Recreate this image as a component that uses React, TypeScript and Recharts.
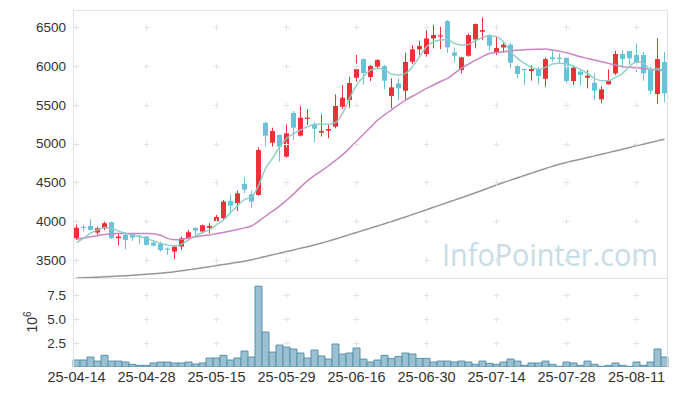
import React from "react";
import { ComposedChart, BarChart, Bar, Line, XAxis, YAxis, ReferenceDot } from "recharts";

const dates = [
  "25-04-14","25-04-15","25-04-16","25-04-17","25-04-18","25-04-21","25-04-22","25-04-23","25-04-24","25-04-25",
  "25-04-28","25-04-29","25-04-30","25-05-02","25-05-07","25-05-08","25-05-09","25-05-12","25-05-13","25-05-14",
  "25-05-15","25-05-16","25-05-19","25-05-20","25-05-21","25-05-22","25-05-23","25-05-26","25-05-27","25-05-28",
  "25-05-29","25-05-30","25-06-02","25-06-04","25-06-05","25-06-09","25-06-10","25-06-11","25-06-12","25-06-13",
  "25-06-16","25-06-17","25-06-18","25-06-19","25-06-20","25-06-23","25-06-24","25-06-25","25-06-26","25-06-27",
  "25-06-30","25-07-01","25-07-02","25-07-03","25-07-04","25-07-07","25-07-08","25-07-09","25-07-10","25-07-11",
  "25-07-14","25-07-15","25-07-16","25-07-17","25-07-18","25-07-21","25-07-22","25-07-23","25-07-24","25-07-25",
  "25-07-28","25-07-29","25-07-30","25-07-31","25-08-01","25-08-04","25-08-05","25-08-06","25-08-07","25-08-08",
  "25-08-11","25-08-12","25-08-13","25-08-14","25-08-18",
];

const open = [
  3782,3930,3940,3855,3910,3988,3782,3825,3834,3812,
  3804,3726,3709,3649,3610,3675,3782,3915,3868,3915,
  3996,4039,4264,4236,4480,4348,4339,5265,5012,5111,
  4832,5394,5102,5321,5248,5141,5167,5218,5475,5561,
  5848,6088,5857,5990,5998,5613,5775,5681,6054,6213,
  6153,6354,6384,6577,6174,5947,6131,6341,6440,6397,
  6170,6238,6273,5998,5960,5934,5960,5835,6110,6105,
  6105,5805,5926,5848,5784,5570,5763,5904,6153,6191,
  6140,6140,5947,5638,6050,
];
const high = [
  3962,3953,4026,3932,3996,3996,3838,3846,3846,3825,
  3812,3760,3739,3662,3696,3804,3889,3923,3958,3975,
  4082,4275,4345,4395,4566,4395,4952,5282,5205,5119,
  5248,5420,5484,5445,5274,5377,5240,5634,5754,5861,
  6140,6097,6011,6088,6011,5840,5840,6170,6268,6324,
  6517,6526,6504,6590,6238,6118,6418,6547,6624,6410,
  6376,6311,6298,6011,5962,6011,5990,6110,6204,6161,
  6108,6003,5947,5947,5904,5741,5956,6196,6204,6193,
  6290,6175,5990,6355,6178,
];
const low = [
  3760,3868,3880,3825,3889,3773,3688,3640,3748,3705,
  3688,3675,3610,3568,3512,3632,3748,3825,3846,3846,
  3975,4018,4100,4133,4360,4168,4330,4961,4961,4768,
  4819,5047,5090,5240,5017,5090,5068,5197,5445,5462,
  5797,5762,5806,5968,5700,5454,5553,5561,6024,6140,
  6118,6226,6217,6170,6046,5904,6118,6226,6333,6204,
  6140,6170,5968,5840,5754,5810,5760,5733,6054,6033,
  5775,5754,5745,5711,5561,5518,5760,5883,5990,6011,
  5925,5809,5638,5510,5532,
];
const close = [
  3919,3925,3889,3910,3975,3782,3804,3760,3790,3800,
  3696,3688,3628,3636,3675,3782,3859,3880,3949,3940,
  4056,4254,4202,4360,4407,4253,4918,5102,5162,4961,
  5132,5205,5334,5334,5192,5162,5188,5484,5591,5780,
  5960,5908,5998,6076,5810,5724,5711,6050,6213,6256,
  6354,6397,6393,6238,6131,6110,6397,6539,6461,6260,
  6230,6273,6041,5896,5950,5960,5870,6088,6088,6088,
  5805,5977,5883,5874,5681,5698,5810,6153,6088,6097,
  6041,5905,5681,6088,5647,
];

const maShort = [
  3725,3782,3846,3889,3919,3911,3876,3846,3825,3804,
  3774,3748,3718,3696,3683,3705,3761,3816,3855,3889,
  3954,4018,4110,4200,4280,4310,4460,4680,4810,4955,
  5065,5130,5175,5218,5250,5250,5250,5272,5390,5580,
  5752,5860,5947,5968,5950,5895,5883,5904,5990,6118,
  6247,6311,6333,6341,6290,6268,6277,6324,6367,6384,
  6376,6311,6183,6097,6033,5981,5955,5981,6024,6033,
  6024,5998,5955,5904,5840,5810,5810,5853,5905,5990,
  6054,6041,5950,5968,5926,
];
const maMid = [
  3770,3785,3800,3815,3830,3840,3842,3843,3843,3842,
  3842,3840,3820,3780,3762,3770,3785,3800,3815,3825,
  3840,3855,3875,3895,3915,3940,4000,4065,4130,4195,
  4270,4350,4440,4520,4590,4650,4715,4785,4855,4940,
  5030,5120,5210,5300,5370,5435,5500,5560,5610,5660,
  5710,5755,5800,5840,5905,5970,6022,6075,6120,6160,
  6172,6183,6194,6204,6208,6213,6215,6217,6204,6188,
  6170,6144,6118,6097,6076,6055,6033,6012,5990,5983,
  5977,5966,5956,5947,5938,
];
const maLong = [
  3270,3273,3277,3281,3285,3290,3295,3300,3306,3312,
  3318,3325,3332,3340,3350,3362,3375,3388,3402,3416,
  3430,3444,3458,3472,3486,3505,3526,3547,3568,3589,
  3610,3631,3652,3673,3696,3720,3745,3772,3800,3828,
  3856,3884,3912,3940,3968,3996,4026,4056,4087,4118,
  4149,4180,4211,4242,4273,4304,4335,4367,4400,4434,
  4468,4500,4530,4560,4590,4620,4650,4680,4708,4735,
  4758,4779,4800,4821,4842,4863,4884,4906,4928,4950,
  4972,4993,5014,5035,5056,
];

const volumeM = [
  0.73,0.73,1.04,0.62,1.22,0.62,0.62,0.52,0.28,0.17,
  0.17,0.42,0.52,0.52,0.42,0.42,0.52,0.31,0.42,0.94,
  0.94,1.22,0.73,0.94,1.67,1.04,8.44,3.65,1.56,2.29,
  2.08,1.88,1.46,0.94,1.77,1.15,0.83,2.40,1.35,1.46,
  1.98,0.83,0.52,0.73,1.22,0.90,1.10,1.46,1.35,0.90,
  0.90,0.52,0.62,0.62,0.52,0.62,0.52,0.28,0.62,0.38,
  0.28,0.52,0.83,0.62,0.17,0.42,0.42,0.62,0.28,0.07,
  0.52,0.42,0.17,0.62,0.28,0.07,0.17,0.42,0.17,0.07,
  0.52,0.17,0.52,1.88,1.04,
];

const dateTicks = ["25-04-14","25-04-28","25-05-15","25-05-29","25-06-16","25-06-30","25-07-14","25-07-28","25-08-11"];
const priceTicks = [3500, 4000, 4500, 5000, 5500, 6000, 6500];
const volumeTicks = [2.5, 5.0, 7.5];

const data = dates.map((d, i) => ({
  date: d,
  open: open[i],
  high: high[i],
  low: low[i],
  close: close[i],
  range: [low[i], high[i]],
  ma1: maShort[i],
  ma2: maMid[i],
  ma3: maLong[i],
  vol: volumeM[i],
}));

const RED = "#ec3238";
const BLUE = "#68c2d9";
const GRID = "#e4e4e4";
const FONT = "'Liberation Sans', Arial, sans-serif";

const Candle = (props: any) => {
  const { x, y, width, height, payload } = props;
  if (x == null || y == null) return null;
  const top = Math.min(y, y + height);
  const h = Math.abs(height);
  const { open: o, close: c, high: hi, low: lo } = payload;
  const color = c >= o ? RED : BLUE;
  const ratio = hi - lo > 0 ? h / (hi - lo) : 0;
  const yOf = (v: number) => top + (hi - v) * ratio;
  const cx = Math.round(x + width / 2 - 0.5) + 0.5;
  const bTop = yOf(Math.max(o, c));
  const bBot = yOf(Math.min(o, c));
  return (
    <g>
      <line x1={cx} x2={cx} y1={top} y2={top + h} stroke={color} strokeWidth={1} />
      <rect x={cx - 2.5} y={bTop} width={5} height={Math.max(1.2, bBot - bTop)} fill={color} />
    </g>
  );
};

const Plus = (p: any) => {
  if (p.cx == null || p.cy == null) return null;
  const cy = Math.round(p.cy) + 0.5;
  return <path d={`M${p.cx - 3},${cy}h6M${p.cx},${cy - 3}v6`} stroke={GRID} strokeWidth={1} fill="none" />;
};

export default function App() {
  return (
    <div style={{ position: "absolute", left: 0, top: 0, width: 677, height: 396, background: "#fff", overflow: "hidden" }}>
      <svg width={677} height={396} style={{ position: "absolute", left: 0, top: 0, pointerEvents: "none" }}>
        <text x={442} y={266} fill="#c8dce7" fontSize={31} fontFamily="'Open Sans', 'Noto Sans', sans-serif" textLength={216} lengthAdjust="spacingAndGlyphs">
          InfoPointer.com
        </text>
      </svg>
      <div style={{ position: "absolute", left: 0, top: 0 }}>
        <ComposedChart width={677} height={278} data={data} margin={{ top: 10, right: 9, bottom: 0, left: 0 }}>
          <XAxis dataKey="date" type="category" hide />
          <YAxis
            domain={[3270, 6720]}
            ticks={priceTicks}
            allowDataOverflow
            width={73}
            axisLine={false}
            tickLine={false}
            tickSize={0}
            tickMargin={7}
            tick={{ fill: "#333", fontSize: 13.5, fontFamily: FONT }}
          />
          {dateTicks.map((d) =>
            priceTicks.map((p) => (
              <ReferenceDot key={d + p} x={d} y={p} r={3} shape={<Plus />} ifOverflow="hidden" />
            ))
          )}
          <Bar dataKey="range" shape={<Candle />} isAnimationActive={false} />
          <Line type="monotone" dataKey="ma3" stroke="#979797" strokeWidth={1.5} dot={false} isAnimationActive={false} />
          <Line type="monotone" dataKey="ma2" stroke="#c986c2" strokeWidth={1.5} dot={false} isAnimationActive={false} />
          <Line type="monotone" dataKey="ma1" stroke="#8ccbc1" strokeWidth={1.5} strokeOpacity={0.9} dot={false} isAnimationActive={false} />
        </ComposedChart>
      </div>
      <div style={{ position: "absolute", left: 0, top: 278 }}>
        <BarChart width={677} height={118} data={data} margin={{ top: 0, right: 9, bottom: 0, left: 0 }} barCategoryGap={0} barGap={0}>
          <XAxis
            dataKey="date"
            type="category"
            ticks={dateTicks}
            interval={0}
            height={29}
            axisLine={false}
            tickLine={false}
            tickSize={0}
            tickMargin={5}
            tick={{ fill: "#333", fontSize: 14.5, fontFamily: FONT }}
          />
          <YAxis
            domain={[0, 9.3]}
            ticks={volumeTicks}
            allowDataOverflow
            width={73}
            axisLine={false}
            tickLine={false}
            tickSize={0}
            tickMargin={7}
            tickFormatter={(v: number) => v.toFixed(1)}
            tick={{ fill: "#333", fontSize: 13.5, fontFamily: FONT }}
          />
          {dateTicks.map((d) =>
            volumeTicks.map((v) => (
              <ReferenceDot key={d + v} x={d} y={v} r={3} shape={<Plus />} ifOverflow="hidden" />
            ))
          )}
          <Bar dataKey="vol" fill="#9ac0d2" stroke="#5a91ac" strokeWidth={1} isAnimationActive={false} />
        </BarChart>
      </div>
      <svg width={677} height={396} style={{ position: "absolute", left: 0, top: 0, pointerEvents: "none" }}>
        <line x1={73} x2={668} y1={10.5} y2={10.5} stroke="#e2e2e2" />
        <line x1={73} x2={668} y1={278.5} y2={278.5} stroke="#e2e2e2" />
        <line x1={73.5} x2={73.5} y1={10} y2={367} stroke="#e2e2e2" />
        <line x1={667.5} x2={667.5} y1={10} y2={367} stroke="#e2e2e2" />
        <text transform="translate(37,322) rotate(-90)" textAnchor="middle" fill="#333" fontSize={14} fontFamily={FONT}>
          10<tspan dy={-6} fontSize={10}>6</tspan>
        </text>
      </svg>
    </div>
  );
}
